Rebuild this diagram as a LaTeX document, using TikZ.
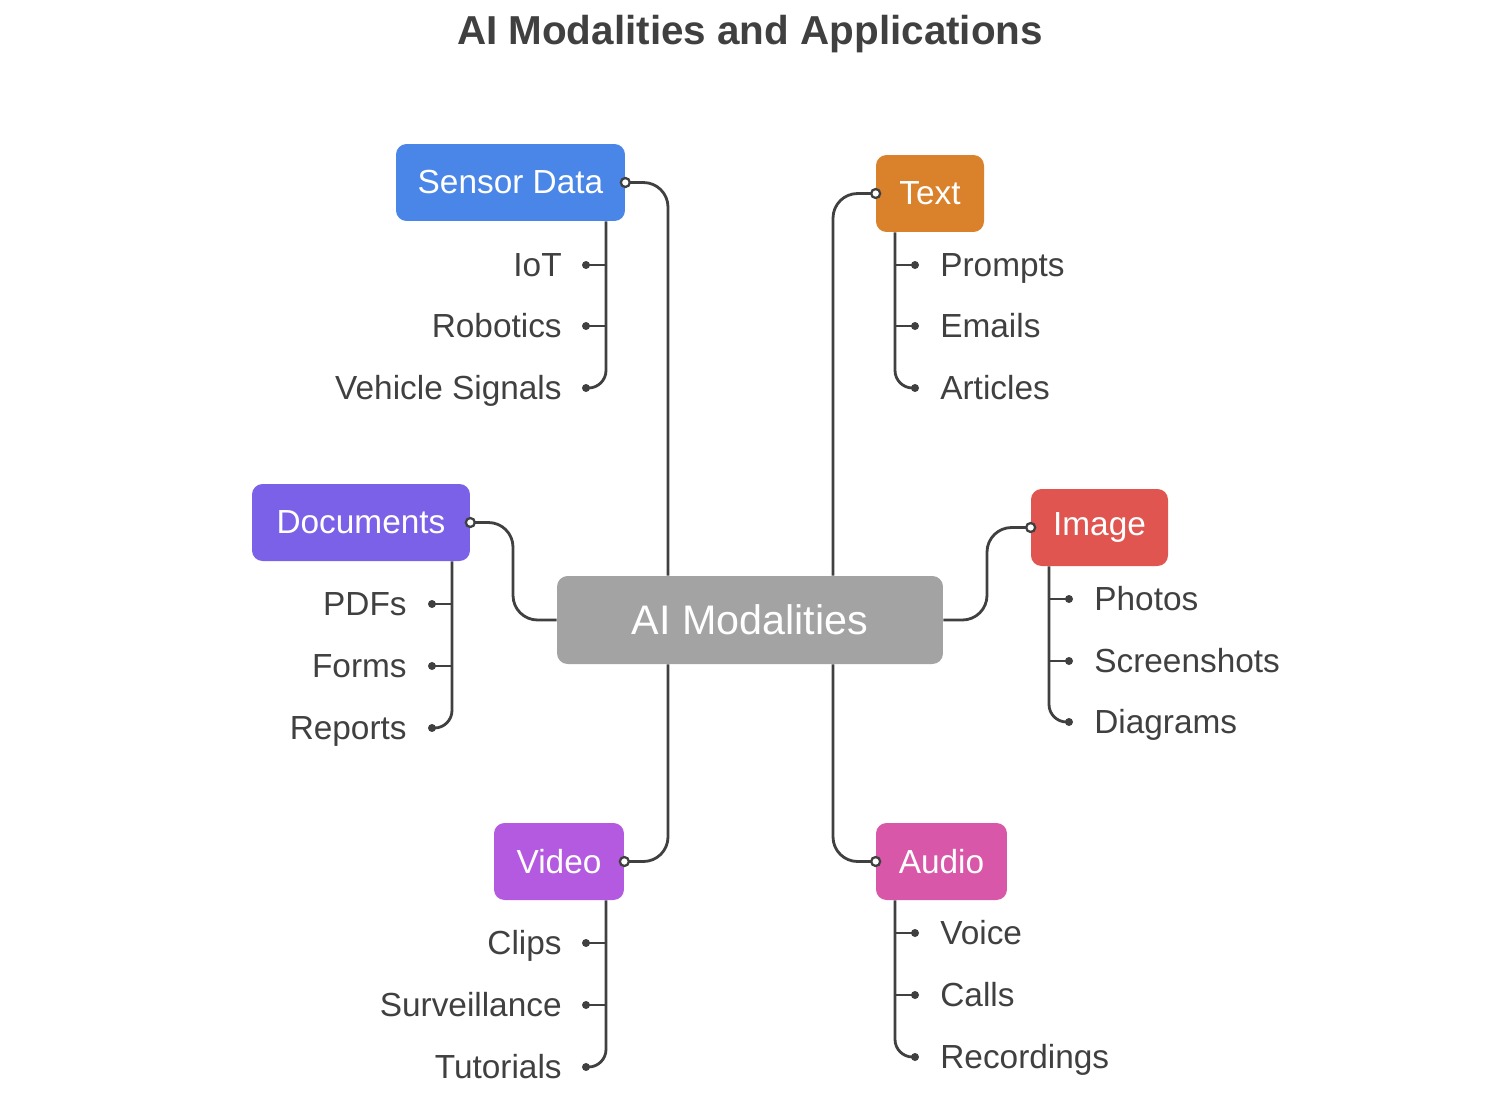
\documentclass[tikz,border=0pt]{standalone}
\usepackage{fontspec}
\setmainfont{Liberation Sans}
\usetikzlibrary{positioning}
\definecolor{ink}{HTML}{404040}
\definecolor{cgray}{HTML}{A3A3A3}
\definecolor{cblue}{HTML}{4A86E8}
\definecolor{corange}{HTML}{D9822B}
\definecolor{cpurple}{HTML}{7B61E8}
\definecolor{cred}{HTML}{E05550}
\definecolor{cviolet}{HTML}{B35AE0}
\definecolor{cpink}{HTML}{D957A8}
\tikzset{
  box/.style={draw=none, rounded corners=6, text=white, inner sep=0pt,
    font=\fontsize{19}{22}\selectfont},
  lbl/.style={text=ink, inner sep=0pt, text height=13.4pt, text depth=0pt,
    font=\fontsize{19}{22}\selectfont},
  conn/.style={draw=ink, line width=1.6pt, rounded corners=14},
  tick/.style={draw=ink, line width=1.6pt},
  port/.style={draw=ink, fill=white, line width=1.3pt},
  dot/.style={fill=ink}
}
\begin{document}
\begin{tikzpicture}[x=0.02cm, y=-0.02cm]
\useasboundingbox (0,0) rectangle (1501,1099);
\node[text=ink, font=\bfseries\fontsize{23}{27}\selectfont] (title) at (750,34) {AI Modalities and Applications};

% hub and modalities
\node[box, fill=cgray, minimum width=7.72cm, minimum height=1.76cm,
  font=\fontsize{23.5}{27}\selectfont] (hub) at (750,620) {AI Modalities};
\node[box, fill=cblue, minimum width=4.58cm, minimum height=1.54cm] (sensor) at (510.5,182.5) {Sensor Data};
\node[box, fill=corange, minimum width=2.16cm, minimum height=1.54cm] (text) at (930,193.5) {Text};
\node[box, fill=cpurple, minimum width=4.36cm, minimum height=1.54cm] (docs) at (361,522.5) {Documents};
\node[box, fill=cred, minimum width=2.74cm, minimum height=1.54cm] (image) at (1099.5,527.5) {Image};
\node[box, fill=cviolet, minimum width=2.6cm, minimum height=1.54cm] (video) at (559,861.5) {Video};
\node[box, fill=cpink, minimum width=2.62cm, minimum height=1.54cm] (audio) at (941.5,861.5) {Audio};

% branch columns
\coordinate (lx) at (668,0);
\coordinate (rx) at (833,0);
\coordinate (dx) at (513,0);
\coordinate (ix) at (987,0);
\draw[conn] (hub.north -| lx) |- (sensor.east);
\draw[conn] (hub.north -| rx) |- (text.west);
\draw[conn] (hub.west) -- (hub.west -| dx) |- (docs.east);
\draw[conn] (hub.east) -- (hub.east -| ix) |- (image.west);
\draw[conn] (hub.south -| lx) |- (video.east);
\draw[conn] (hub.south -| rx) |- (audio.west);
\foreach \n/\a in {sensor/east, text/west, docs/east, image/west, video/east, audio/west}
  \draw[port] (\n.\a) circle (4.5);

% Sensor Data
\node[lbl, anchor=east] (iot) at (562,265) {IoT};
\node[lbl, anchor=east] (robotics) at (562,326) {Robotics};
\node[lbl, anchor=east] (vehicle) at (562,388) {Vehicle Signals};
% Text
\node[lbl, anchor=west] (prompts) at (940,265) {Prompts};
\node[lbl, anchor=west] (emails) at (940,326) {Emails};
\node[lbl, anchor=west] (articles) at (940,388) {Articles};
% Documents
\node[lbl, anchor=east] (pdfs) at (407,604) {PDFs};
\node[lbl, anchor=east] (forms) at (407,666) {Forms};
\node[lbl, anchor=east] (reports) at (407,728) {Reports};
% Image
\node[lbl, anchor=west] (photos) at (1094,599) {Photos};
\node[lbl, anchor=west] (shots) at (1094,661) {Screenshots};
\node[lbl, anchor=west] (diagrams) at (1094,722) {Diagrams};
% Video
\node[lbl, anchor=east] (clips) at (562,943) {Clips};
\node[lbl, anchor=east] (surv) at (562,1005) {Surveillance};
\node[lbl, anchor=east] (tutorials) at (562,1067) {Tutorials};
% Audio
\node[lbl, anchor=west] (voice) at (940,933) {Voice};
\node[lbl, anchor=west] (calls) at (940,995) {Calls};
\node[lbl, anchor=west] (recordings) at (940,1057) {Recordings};

% child ticks
\foreach \parent/\colx/\endx/\a/\b/\c in {
  sensor/606/586/iot/robotics/vehicle,
  video/606/586/clips/surv/tutorials,
  docs/452/432/pdfs/forms/reports,
  text/895/915/prompts/emails/articles,
  audio/895/915/voice/calls/recordings,
  image/1049/1069/photos/shots/diagrams}{
  \coordinate (col) at (\colx,0);
  \coordinate (tip) at (\endx,0);
  \draw[conn, rounded corners=10] (\parent.south -| col) |- (\c -| tip);
  \draw[tick] (\a -| col) -- (\a -| tip);
  \draw[tick] (\b -| col) -- (\b -| tip);
  \foreach \k in {\a,\b,\c}
    \fill[dot] (\k -| tip) circle (4);
}
\end{tikzpicture}
\end{document}
